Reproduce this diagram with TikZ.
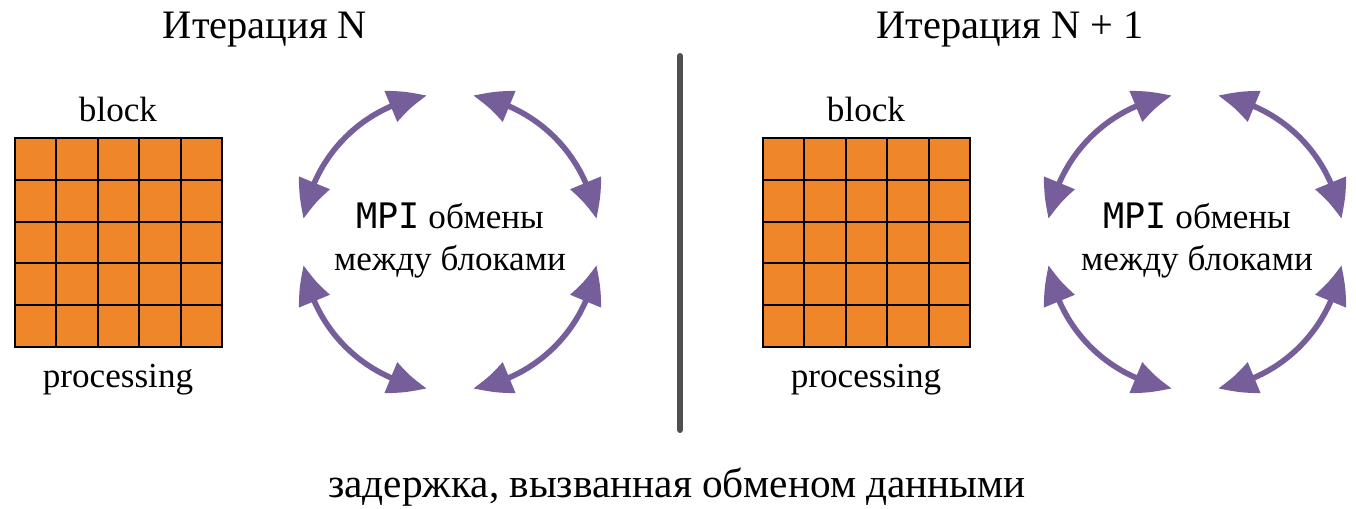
\documentclass[tikz,border=0pt]{standalone}
\usepackage{fontspec}
\setmainfont{Liberation Serif}
\setmonofont{DejaVu Sans Mono}
\usetikzlibrary{arrows.meta,bending}
\definecolor{cellfill}{RGB}{240,134,42}
\definecolor{swap}{RGB}{118,94,154}
\definecolor{divider}{RGB}{80,80,80}

\begin{document}
\begin{tikzpicture}[x=0.02cm,y=-0.02cm,title/.style={anchor=base,inner sep=0pt,font=\fontsize{23pt}{27pt}\selectfont},label/.style={anchor=base,inner sep=0pt,font=\fontsize{20pt}{24pt}\selectfont},cell/.style={draw=black,line width=1.2pt,fill=cellfill},xchg/.style={draw=swap,line width=3.2pt,{Triangle[length=0.76cm,width=0.64cm,bend]}-{Triangle[length=0.76cm,width=0.64cm,bend]}},sep/.style={draw=divider,line width=3.4pt,line cap=round}]
\useasboundingbox (0,0) rectangle (1356,508);
% titles
\node[title] (t0) at (265,38) {Итерация N};
\node[title] (t1) at (1010,38) {Итерация N + 1};
% iteration N
\node[label] (b0) at (118,121) {block};
\node[label] (p0) at (118,387) {processing};
\foreach \i in {0,...,4}
  \foreach \j in {0,...,4}
    \draw[cell] (15+41.4*\i,138+41.8*\j) rectangle ++(41.4,41.8);
\coordinate (c0) at (450,242);
\node[label] (m0) at (450,228) {\texttt{MPI} обмены};
\node[label] (m1) at (450,270) {между блоками};
\foreach \a in {0,90,180,270}
  \draw[xchg] (c0) ++(\a+9:148) arc[start angle=\a+9,end angle=\a+81,radius=148];
% divider
\coordinate (s0) at (680,56);
\coordinate (s1) at (680,430);
\draw[sep] (s0) -- (s1);
% iteration N + 1
\node[label] (b1) at (866,121) {block};
\node[label] (p1) at (866,387) {processing};
\foreach \i in {0,...,4}
  \foreach \j in {0,...,4}
    \draw[cell] (763+41.4*\i,138+41.8*\j) rectangle ++(41.4,41.8);
\coordinate (c1) at (1195,242);
\node[label] (m2) at (1197,228) {\texttt{MPI} обмены};
\node[label] (m3) at (1197,270) {между блоками};
\foreach \a in {0,90,180,270}
  \draw[xchg] (c1) ++(\a+9:148) arc[start angle=\a+9,end angle=\a+81,radius=148];
% delay caption
\node[title,font=\fontsize{23.5pt}{28pt}\selectfont] (d0) at (677,497) {задержка, вызванная обменом данными};
\end{tikzpicture}
\end{document}
